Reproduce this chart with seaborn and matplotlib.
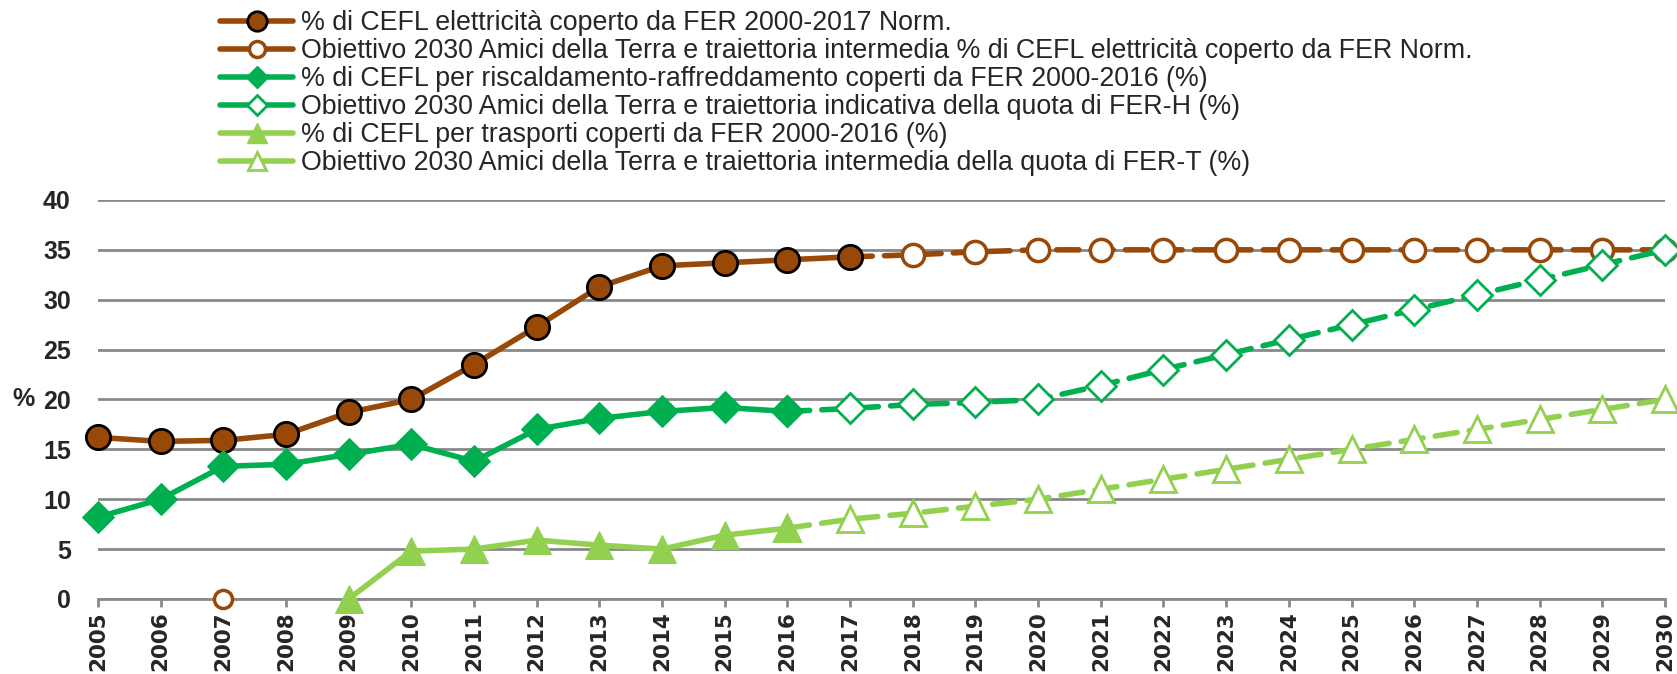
import numpy as np
import pandas as pd
import seaborn as sns
import matplotlib.pyplot as plt
from matplotlib.lines import Line2D

# years on the x axis
years = list(range(2005, 2031))

# electricity share covered by renewables (actual) and target path
el_years = list(range(2005, 2018))
el_vals = [16.2, 15.8, 15.9, 16.5, 18.7, 20.0, 23.5, 27.3, 31.3, 33.4, 33.7, 34.0, 34.3]
el_t_years = [2017, 2018, 2019, 2020, 2021, 2022, 2023, 2024, 2025, 2026, 2027, 2028, 2029, 2030]
el_t_vals = [34.3, 34.5, 34.8, 35.0, 35.0, 35.0, 35.0, 35.0, 35.0, 35.0, 35.0, 35.0, 35.0, 35.0]
el_t_stray_year = [2007]
el_t_stray_val = [0.0]

# heating/cooling
h_years = list(range(2005, 2017))
h_vals = [8.2, 10.0, 13.3, 13.5, 14.5, 15.5, 13.8, 17.0, 18.1, 18.8, 19.2, 18.8]
h_t_years = list(range(2016, 2031))
h_t_vals = [18.8, 19.1, 19.5, 19.7, 20.0, 21.4, 23.0, 24.5, 26.0, 27.5, 29.0, 30.5, 32.0, 33.5, 35.0]

# transport
t_years = list(range(2009, 2017))
t_vals = [0.0, 4.8, 5.0, 5.9, 5.4, 5.0, 6.4, 7.1]
t_t_years = list(range(2016, 2031))
t_t_vals = [7.1, 8.0, 8.6, 9.3, 10.0, 11.0, 12.0, 13.0, 14.0, 15.0, 16.0, 17.0, 18.0, 19.0, 20.0]

labels = [
    "% di CEFL elettricità coperto da FER 2000-2017 Norm.",
    "Obiettivo 2030 Amici della Terra e traiettoria intermedia % di CEFL elettricità coperto da FER Norm.",
    "% di CEFL per riscaldamento-raffreddamento coperti da FER 2000-2016 (%)",
    "Obiettivo 2030 Amici della Terra e traiettoria indicativa della quota di FER-H (%)",
    "% di CEFL per trasporti coperti da FER 2000-2016 (%)",
    "Obiettivo 2030 Amici della Terra e traiettoria intermedia della quota di FER-T (%)",
]

BROWN = "#984807"
GREEN = "#00B050"
LGREEN = "#92D050"

sns.set_style("white")
plt.rcParams['font.family'] = ['Liberation Sans', 'DejaVu Sans']

fig = plt.figure(figsize=(16.77, 6.74), dpi=100)
ax = fig.add_axes([0.0584, 0.1113, 0.9344, 0.592])

dash = (4, 2.2)
dkw = dict(linestyle=(0, dash), dash_capstyle="round", lw=4)

# targets first so the actual markers sit on top
sns.lineplot(x=el_t_years, y=el_t_vals, ax=ax, color=BROWN, marker="o", markersize=16,
             markerfacecolor="white", markeredgecolor=BROWN, markeredgewidth=2.5, zorder=3, **dkw)
sns.scatterplot(x=el_t_stray_year, y=el_t_stray_val, ax=ax, s=13**2, facecolor="white",
                edgecolor=BROWN, linewidth=2.5, zorder=3)
sns.lineplot(x=h_t_years, y=h_t_vals, ax=ax, color=GREEN, marker="D", markersize=15,
             markerfacecolor="white", markeredgecolor=GREEN, markeredgewidth=2, zorder=3, **dkw)
sns.lineplot(x=t_t_years, y=t_t_vals, ax=ax, color=LGREEN, marker="^", markersize=19,
             markerfacecolor="white", markeredgecolor=LGREEN, markeredgewidth=2, zorder=3, **dkw)

sns.lineplot(x=el_years, y=el_vals, ax=ax, color=BROWN, lw=4, marker="o", markersize=17.5,
             markerfacecolor=BROWN, markeredgecolor="black", markeredgewidth=2, zorder=4)
sns.lineplot(x=h_years, y=h_vals, ax=ax, color=GREEN, lw=4, marker="D", markersize=16,
             markerfacecolor=GREEN, markeredgecolor=GREEN, zorder=4)
sns.lineplot(x=t_years, y=t_vals, ax=ax, color=LGREEN, lw=4, marker="^", markersize=20,
             markerfacecolor=LGREEN, markeredgecolor=LGREEN, zorder=4)

ax.set_xlim(2005, 2030)
ax.set_ylim(0, 40)
ax.set_xticks(years)
ax.set_xticklabels([str(y) for y in years], rotation=90, fontsize=15.5, fontweight="bold",
                   family=['DejaVu Sans'])
ax.set_yticks(range(0, 41, 5))
ax.set_yticklabels([str(v) for v in range(0, 41, 5)], fontsize=18, fontweight="bold")
ax.yaxis.grid(True, color="#898989", lw=2)
ax.set_axisbelow(True)
for s in ["top", "right", "left"]:
    ax.spines[s].set_visible(False)
ax.spines["bottom"].set_color("#898989")
ax.spines["bottom"].set_linewidth(2)
ax.tick_params(axis="x", bottom=True, direction="out", length=6, width=2, color="#898989", pad=3)
ax.tick_params(axis="y", left=False, pad=16)
ax.set_ylabel("%", rotation=0, fontsize=18, fontweight="bold", labelpad=14, va="center")
ax.set_xlabel("")
for ln in ax.lines:
    ln.set_clip_on(False)
for c in ax.collections:
    c.set_clip_on(False)

handles = [
    Line2D([], [], color=BROWN, lw=4, marker="o", markersize=14, markerfacecolor=BROWN,
           markeredgecolor="black", markeredgewidth=2),
    Line2D([], [], color=BROWN, lw=4, marker="o", markersize=11.5, markerfacecolor="white",
           markeredgecolor=BROWN, markeredgewidth=2.5),
    Line2D([], [], color=GREEN, lw=4, marker="D", markersize=11, markerfacecolor=GREEN,
           markeredgecolor=GREEN),
    Line2D([], [], color=GREEN, lw=4, marker="D", markersize=10, markerfacecolor="white",
           markeredgecolor=GREEN, markeredgewidth=2),
    Line2D([], [], color=LGREEN, lw=4, marker="^", markersize=14, markerfacecolor=LGREEN,
           markeredgecolor=LGREEN),
    Line2D([], [], color=LGREEN, lw=4, marker="^", markersize=13, markerfacecolor="white",
           markeredgecolor=LGREEN, markeredgewidth=2),
]
fig.legend(handles, labels, loc="upper left", bbox_to_anchor=(0.131, 0.985), frameon=False,
           fontsize=19.3, handlelength=2.75, handletextpad=0.3, labelspacing=0.075,
           borderaxespad=0, borderpad=0)

fig.savefig("out.png", dpi=100)
